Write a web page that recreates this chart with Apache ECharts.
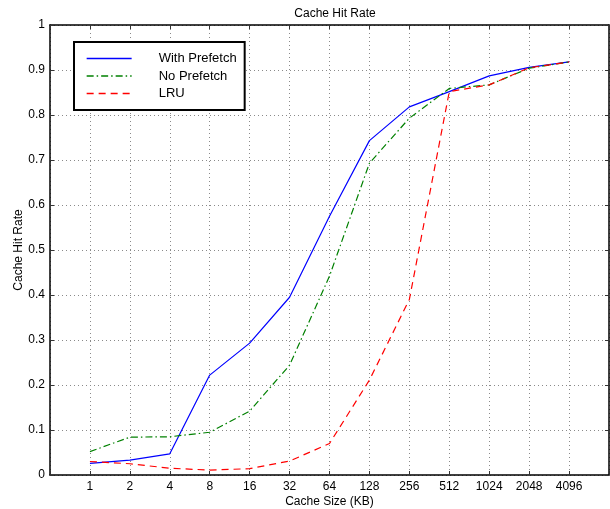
<!DOCTYPE html>
<html>
<head>
<meta charset="utf-8">
<script src="https://cdn.jsdelivr.net/npm/echarts@6/dist/echarts.min.js"></script>
<style>
  html, body { margin: 0; padding: 0; background: #fff; }
  #chart { width: 610px; height: 509px; }
</style>
</head>
<body>
<div id="chart"></div>
<script>
// cache sizes in KB, plotted at log2 positions 0..12
const cacheSizes = [1, 2, 4, 8, 16, 32, 64, 128, 256, 512, 1024, 2048, 4096];
const withPrefetch = [0.026, 0.033, 0.047, 0.222, 0.293, 0.395, 0.575, 0.743, 0.818, 0.852, 0.887, 0.906, 0.918];
const noPrefetch = [0.052, 0.084, 0.085, 0.095, 0.142, 0.244, 0.442, 0.693, 0.793, 0.859, 0.867, 0.904, 0.918];
const lru = [0.030, 0.025, 0.015, 0.011, 0.014, 0.031, 0.070, 0.211, 0.390, 0.852, 0.867, 0.905, 0.918];

const font = 'Liberation Sans, Arial, Helvetica, sans-serif';
const blue = '#0000ff', green = '#008000', red = '#ff0000';

const toPairs = vals => vals.map((v, i) => [Math.log2(cacheSizes[i]), v]);

const gridLine = { show: true, lineStyle: { color: '#8a8a8a', width: 1, type: [1, 3] } };
const boxLine = { show: true, onZero: false, lineStyle: { color: '#000', width: 1.5 } };
const tick = { show: true, inside: true, length: 4, lineStyle: { color: '#333', width: 1 } };

let chart = echarts.init(document.getElementById('chart'));
chart.setOption({
  animation: false,
  backgroundColor: '#fff',
  title: {
    text: 'Cache Hit Rate',
    left: 330,
    textAlign: 'center',
    top: 3,
    textStyle: { fontFamily: font, fontSize: 12, fontWeight: 'normal', color: '#000' }
  },
  legend: {
    orient: 'vertical',
    left: 74,
    top: 42,
    padding: [10, 8, 10, 12],
    itemWidth: 45,
    itemHeight: 10,
    itemGap: 4.5,
    borderColor: '#000',
    borderWidth: 2,
    borderRadius: 0,
    backgroundColor: '#fff',
    itemStyle: { color: 'transparent', borderWidth: 0 },
    textStyle: { fontFamily: font, fontSize: 13, color: '#000', padding: [0, 0, 0, 22] },
    data: [
      { name: 'With Prefetch', lineStyle: { color: blue, width: 1.3, type: 'solid' } },
      { name: 'No Prefetch', lineStyle: { color: green, width: 1.3, type: [7, 3, 1.5, 3] } },
      { name: 'LRU', lineStyle: { color: red, width: 1.3, type: [7, 5] } }
    ]
  },
  grid: { left: 50, right: 1, top: 25, bottom: 34, outerBoundsMode: 'none', containLabel: false },
  xAxis: [
    {
      type: 'value',
      min: -1,
      max: 13,
      interval: 1,
      name: 'Cache Size (KB)',
      nameLocation: 'middle',
      nameGap: 21,
      nameMoveOverlap: false,
      nameTextStyle: { fontFamily: font, fontSize: 12, color: '#000' },
      axisLine: boxLine,
      axisTick: tick,
      axisLabel: {
        fontFamily: font, fontSize: 12, color: '#000', margin: 6,
        formatter: v => (v >= 0 && v <= 12) ? String(Math.pow(2, v)) : ''
      },
      splitLine: gridLine
    },
    {
      type: 'value',
      position: 'top',
      min: -1,
      max: 13,
      interval: 1,
      axisLine: boxLine,
      axisTick: tick,
      axisLabel: { show: false },
      splitLine: { show: false }
    }
  ],
  yAxis: [
    {
      type: 'value',
      min: 0,
      max: 1,
      interval: 0.1,
      name: 'Cache Hit Rate',
      nameLocation: 'middle',
      nameGap: 25,
      nameMoveOverlap: false,
      nameTextStyle: { fontFamily: font, fontSize: 12, color: '#000' },
      axisLine: boxLine,
      axisTick: tick,
      axisLabel: {
        fontFamily: font, fontSize: 12, color: '#000', margin: 5,
        formatter: v => String(Math.round(v * 10) / 10)
      },
      splitLine: gridLine
    },
    {
      type: 'value',
      position: 'right',
      min: 0,
      max: 1,
      interval: 0.1,
      axisLine: boxLine,
      axisTick: tick,
      axisLabel: { show: false },
      splitLine: { show: false }
    }
  ],
  series: [
    {
      name: 'With Prefetch',
      type: 'line',
      symbol: 'none',
      color: blue,
      lineStyle: { color: blue, width: 1.2, type: 'solid' },
      data: toPairs(withPrefetch)
    },
    {
      name: 'No Prefetch',
      type: 'line',
      symbol: 'none',
      color: green,
      lineStyle: { color: green, width: 1.2, type: [7, 3, 1.5, 3] },
      data: toPairs(noPrefetch)
    },
    {
      name: 'LRU',
      type: 'line',
      symbol: 'none',
      color: red,
      lineStyle: { color: red, width: 1.2, type: [7, 5] },
      data: toPairs(lru)
    }
  ]
});
</script>
</body>
</html>
